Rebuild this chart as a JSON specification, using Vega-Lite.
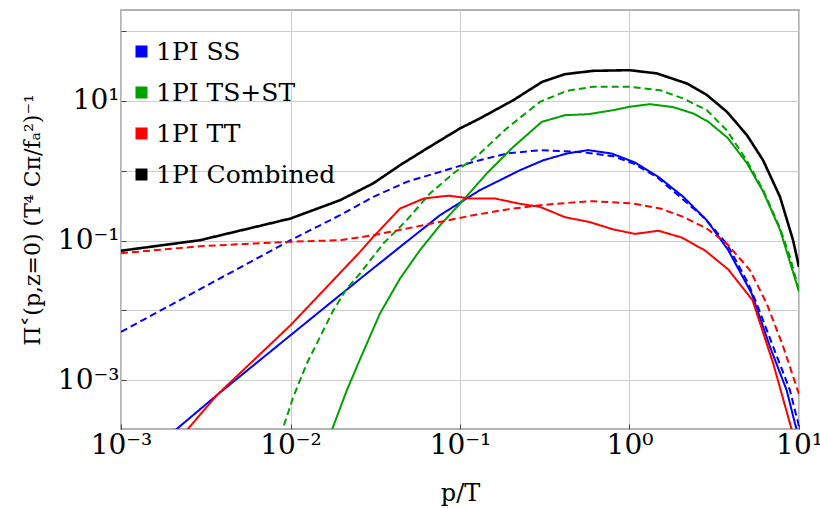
{
  "$schema": "https://vega.github.io/schema/vega-lite/v6.json",
  "width": 678,
  "height": 419,
  "autosize": "none",
  "padding": {"left": 121, "top": 10, "right": 21, "bottom": 79},
  "background": "white",
  "config": {
    "view": {"stroke": "#999999", "strokeWidth": 1.5},
    "font": "DejaVu Serif"
  },
  "data": {
    "values": [
      {"s": "1PI SS", "t": "solid", "x": 0.0017, "y": 0.000126},
      {"s": "1PI SS", "t": "solid", "x": 0.002084, "y": 0.000191},
      {"s": "1PI SS", "t": "solid", "x": 0.00367, "y": 0.000608},
      {"s": "1PI SS", "t": "solid", "x": 0.01, "y": 0.0044},
      {"s": "1PI SS", "t": "solid", "x": 0.0257, "y": 0.0282},
      {"s": "1PI SS", "t": "solid", "x": 0.0443, "y": 0.081},
      {"s": "1PI SS", "t": "solid", "x": 0.0762, "y": 0.2304},
      {"s": "1PI SS", "t": "solid", "x": 0.131, "y": 0.526},
      {"s": "1PI SS", "t": "solid", "x": 0.226, "y": 1.016},
      {"s": "1PI SS", "t": "solid", "x": 0.31, "y": 1.41},
      {"s": "1PI SS", "t": "solid", "x": 0.426, "y": 1.76},
      {"s": "1PI SS", "t": "solid", "x": 0.57, "y": 1.97},
      {"s": "1PI SS", "t": "solid", "x": 0.785, "y": 1.76},
      {"s": "1PI SS", "t": "solid", "x": 1.078, "y": 1.31},
      {"s": "1PI SS", "t": "solid", "x": 1.479, "y": 0.815},
      {"s": "1PI SS", "t": "solid", "x": 2.077, "y": 0.422},
      {"s": "1PI SS", "t": "solid", "x": 2.854, "y": 0.1955},
      {"s": "1PI SS", "t": "solid", "x": 3.828, "y": 0.0726},
      {"s": "1PI SS", "t": "solid", "x": 5.26, "y": 0.0174},
      {"s": "1PI SS", "t": "solid", "x": 6.745, "y": 0.00299},
      {"s": "1PI SS", "t": "solid", "x": 8.46, "y": 0.000716},
      {"s": "1PI SS", "t": "solid", "x": 9.47, "y": 0.000239},
      {"s": "1PI SS", "t": "solid", "x": 10, "y": 0.000152},

      {"s": "1PI SS", "t": "dashed", "x": 0.001, "y": 0.00491},
      {"s": "1PI SS", "t": "dashed", "x": 0.01, "y": 0.101},
      {"s": "1PI SS", "t": "dashed", "x": 0.0196, "y": 0.2304},
      {"s": "1PI SS", "t": "dashed", "x": 0.0308, "y": 0.4217},
      {"s": "1PI SS", "t": "dashed", "x": 0.0485, "y": 0.691},
      {"s": "1PI SS", "t": "dashed", "x": 0.0762, "y": 0.961},
      {"s": "1PI SS", "t": "dashed", "x": 0.1198, "y": 1.337},
      {"s": "1PI SS", "t": "dashed", "x": 0.1886, "y": 1.76},
      {"s": "1PI SS", "t": "dashed", "x": 0.2965, "y": 1.966},
      {"s": "1PI SS", "t": "dashed", "x": 0.5105, "y": 1.859},
      {"s": "1PI SS", "t": "dashed", "x": 0.8025, "y": 1.613},
      {"s": "1PI SS", "t": "dashed", "x": 1.053, "y": 1.268},
      {"s": "1PI SS", "t": "dashed", "x": 1.445, "y": 0.815},
      {"s": "1PI SS", "t": "dashed", "x": 1.986, "y": 0.4217},
      {"s": "1PI SS", "t": "dashed", "x": 2.725, "y": 0.2178},
      {"s": "1PI SS", "t": "dashed", "x": 3.746, "y": 0.0906},
      {"s": "1PI SS", "t": "dashed", "x": 5.02, "y": 0.0242},
      {"s": "1PI SS", "t": "dashed", "x": 5.628, "y": 0.0125},
      {"s": "1PI SS", "t": "dashed", "x": 7.047, "y": 0.00299},
      {"s": "1PI SS", "t": "dashed", "x": 8.849, "y": 0.000716},
      {"s": "1PI SS", "t": "dashed", "x": 9.906, "y": 0.000239},
      {"s": "1PI SS", "t": "dashed", "x": 10, "y": 0.00021},

      {"s": "1PI TS+ST", "t": "solid", "x": 0.0164, "y": 0.000127},
      {"s": "1PI TS+ST", "t": "solid", "x": 0.0175, "y": 0.000191},
      {"s": "1PI TS+ST", "t": "solid", "x": 0.0215, "y": 0.000716},
      {"s": "1PI TS+ST", "t": "solid", "x": 0.0257, "y": 0.00199},
      {"s": "1PI TS+ST", "t": "solid", "x": 0.0337, "y": 0.009},
      {"s": "1PI TS+ST", "t": "solid", "x": 0.0443, "y": 0.0286},
      {"s": "1PI TS+ST", "t": "solid", "x": 0.058, "y": 0.0726},
      {"s": "1PI TS+ST", "t": "solid", "x": 0.0762, "y": 0.165},
      {"s": "1PI TS+ST", "t": "solid", "x": 0.1, "y": 0.337},
      {"s": "1PI TS+ST", "t": "solid", "x": 0.1437, "y": 0.912},
      {"s": "1PI TS+ST", "t": "solid", "x": 0.2063, "y": 2.19},
      {"s": "1PI TS+ST", "t": "solid", "x": 0.3035, "y": 5.0},
      {"s": "1PI TS+ST", "t": "solid", "x": 0.4164, "y": 6.24},
      {"s": "1PI TS+ST", "t": "solid", "x": 0.5715, "y": 6.44},
      {"s": "1PI TS+ST", "t": "solid", "x": 0.8025, "y": 7.36},
      {"s": "1PI TS+ST", "t": "solid", "x": 1.007, "y": 8.26},
      {"s": "1PI TS+ST", "t": "solid", "x": 1.321, "y": 8.97},
      {"s": "1PI TS+ST", "t": "solid", "x": 1.813, "y": 8.12},
      {"s": "1PI TS+ST", "t": "solid", "x": 2.377, "y": 6.6},
      {"s": "1PI TS+ST", "t": "solid", "x": 2.909, "y": 5.04},
      {"s": "1PI TS+ST", "t": "solid", "x": 3.785, "y": 2.97},
      {"s": "1PI TS+ST", "t": "solid", "x": 4.909, "y": 1.3},
      {"s": "1PI TS+ST", "t": "solid", "x": 6.15, "y": 0.5},
      {"s": "1PI TS+ST", "t": "solid", "x": 7.727, "y": 0.143},
      {"s": "1PI TS+ST", "t": "solid", "x": 10, "y": 0.0185},

      {"s": "1PI TS+ST", "t": "dashed", "x": 0.00832, "y": 0.000113},
      {"s": "1PI TS+ST", "t": "dashed", "x": 0.00894, "y": 0.000191},
      {"s": "1PI TS+ST", "t": "dashed", "x": 0.01039, "y": 0.000574},
      {"s": "1PI TS+ST", "t": "dashed", "x": 0.01247, "y": 0.00173},
      {"s": "1PI TS+ST", "t": "dashed", "x": 0.01493, "y": 0.00416},
      {"s": "1PI TS+ST", "t": "dashed", "x": 0.01789, "y": 0.01002},
      {"s": "1PI TS+ST", "t": "dashed", "x": 0.02148, "y": 0.0205},
      {"s": "1PI TS+ST", "t": "dashed", "x": 0.0257, "y": 0.0337},
      {"s": "1PI TS+ST", "t": "dashed", "x": 0.0353, "y": 0.0906},
      {"s": "1PI TS+ST", "t": "dashed", "x": 0.0485, "y": 0.1955},
      {"s": "1PI TS+ST", "t": "dashed", "x": 0.0665, "y": 0.471},
      {"s": "1PI TS+ST", "t": "dashed", "x": 0.0913, "y": 0.912},
      {"s": "1PI TS+ST", "t": "dashed", "x": 0.131, "y": 1.76},
      {"s": "1PI TS+ST", "t": "dashed", "x": 0.1886, "y": 4.03},
      {"s": "1PI TS+ST", "t": "dashed", "x": 0.2965, "y": 9.68},
      {"s": "1PI TS+ST", "t": "dashed", "x": 0.426, "y": 13.9},
      {"s": "1PI TS+ST", "t": "dashed", "x": 0.6115, "y": 15.9},
      {"s": "1PI TS+ST", "t": "dashed", "x": 1.007, "y": 15.9},
      {"s": "1PI TS+ST", "t": "dashed", "x": 1.514, "y": 14.2},
      {"s": "1PI TS+ST", "t": "dashed", "x": 2.077, "y": 10.8},
      {"s": "1PI TS+ST", "t": "dashed", "x": 2.854, "y": 7.36},
      {"s": "1PI TS+ST", "t": "dashed", "x": 3.746, "y": 3.8},
      {"s": "1PI TS+ST", "t": "dashed", "x": 4.909, "y": 1.41},
      {"s": "1PI TS+ST", "t": "dashed", "x": 6.15, "y": 0.526},
      {"s": "1PI TS+ST", "t": "dashed", "x": 7.727, "y": 0.15},
      {"s": "1PI TS+ST", "t": "dashed", "x": 8.849, "y": 0.0582},
      {"s": "1PI TS+ST", "t": "dashed", "x": 10, "y": 0.0194},

      {"s": "1PI TT", "t": "solid", "x": 0.00211, "y": 0.000127},
      {"s": "1PI TT", "t": "solid", "x": 0.00244, "y": 0.000191},
      {"s": "1PI TT", "t": "solid", "x": 0.00367, "y": 0.000608},
      {"s": "1PI TT", "t": "solid", "x": 0.01, "y": 0.00612},
      {"s": "1PI TT", "t": "solid", "x": 0.0257, "y": 0.0687},
      {"s": "1PI TT", "t": "solid", "x": 0.0308, "y": 0.1127},
      {"s": "1PI TT", "t": "solid", "x": 0.0443, "y": 0.2874},
      {"s": "1PI TT", "t": "solid", "x": 0.0613, "y": 0.4},
      {"s": "1PI TT", "t": "solid", "x": 0.0853, "y": 0.4385},
      {"s": "1PI TT", "t": "solid", "x": 0.1146, "y": 0.4},
      {"s": "1PI TT", "t": "solid", "x": 0.1609, "y": 0.4},
      {"s": "1PI TT", "t": "solid", "x": 0.2199, "y": 0.339},
      {"s": "1PI TT", "t": "solid", "x": 0.2965, "y": 0.303},
      {"s": "1PI TT", "t": "solid", "x": 0.4164, "y": 0.2157},
      {"s": "1PI TT", "t": "solid", "x": 0.5768, "y": 0.1847},
      {"s": "1PI TT", "t": "solid", "x": 0.794, "y": 0.1452},
      {"s": "1PI TT", "t": "solid", "x": 1.078, "y": 0.1243},
      {"s": "1PI TT", "t": "solid", "x": 1.479, "y": 0.1382},
      {"s": "1PI TT", "t": "solid", "x": 2.032, "y": 0.1104},
      {"s": "1PI TT", "t": "solid", "x": 2.789, "y": 0.0719},
      {"s": "1PI TT", "t": "solid", "x": 3.828, "y": 0.0384},
      {"s": "1PI TT", "t": "solid", "x": 5.318, "y": 0.01396},
      {"s": "1PI TT", "t": "solid", "x": 7.047, "y": 0.00173},
      {"s": "1PI TT", "t": "solid", "x": 8.849, "y": 0.000239},
      {"s": "1PI TT", "t": "solid", "x": 9.47, "y": 0.000133},

      {"s": "1PI TT", "t": "dashed", "x": 0.001, "y": 0.0658},
      {"s": "1PI TT", "t": "dashed", "x": 0.00292, "y": 0.0828},
      {"s": "1PI TT", "t": "dashed", "x": 0.01, "y": 0.0962},
      {"s": "1PI TT", "t": "dashed", "x": 0.0196, "y": 0.101},
      {"s": "1PI TT", "t": "dashed", "x": 0.0308, "y": 0.119},
      {"s": "1PI TT", "t": "dashed", "x": 0.0485, "y": 0.1486},
      {"s": "1PI TT", "t": "dashed", "x": 0.0762, "y": 0.1847},
      {"s": "1PI TT", "t": "dashed", "x": 0.1198, "y": 0.2304},
      {"s": "1PI TT", "t": "dashed", "x": 0.1886, "y": 0.278},
      {"s": "1PI TT", "t": "dashed", "x": 0.2965, "y": 0.3206},
      {"s": "1PI TT", "t": "dashed", "x": 0.5105, "y": 0.357},
      {"s": "1PI TT", "t": "dashed", "x": 0.6115, "y": 0.366},
      {"s": "1PI TT", "t": "dashed", "x": 1.053, "y": 0.339},
      {"s": "1PI TT", "t": "dashed", "x": 1.514, "y": 0.2874},
      {"s": "1PI TT", "t": "dashed", "x": 2.077, "y": 0.2178},
      {"s": "1PI TT", "t": "dashed", "x": 2.854, "y": 0.1486},
      {"s": "1PI TT", "t": "dashed", "x": 3.746, "y": 0.0906},
      {"s": "1PI TT", "t": "dashed", "x": 5.14, "y": 0.0375},
      {"s": "1PI TT", "t": "dashed", "x": 6.449, "y": 0.0125},
      {"s": "1PI TT", "t": "dashed", "x": 8.08, "y": 0.00299},
      {"s": "1PI TT", "t": "dashed", "x": 10, "y": 0.000628},

      {"s": "1PI Combined", "t": "solid", "x": 0.001, "y": 0.0714},
      {"s": "1PI Combined", "t": "solid", "x": 0.00292, "y": 0.101},
      {"s": "1PI Combined", "t": "solid", "x": 0.01, "y": 0.2065},
      {"s": "1PI Combined", "t": "solid", "x": 0.0196, "y": 0.378},
      {"s": "1PI Combined", "t": "solid", "x": 0.0307, "y": 0.656},
      {"s": "1PI Combined", "t": "solid", "x": 0.0443, "y": 1.2},
      {"s": "1PI Combined", "t": "solid", "x": 0.0638, "y": 2.08},
      {"s": "1PI Combined", "t": "solid", "x": 0.1, "y": 4.03},
      {"s": "1PI Combined", "t": "solid", "x": 0.131, "y": 5.6},
      {"s": "1PI Combined", "t": "solid", "x": 0.206, "y": 10.2},
      {"s": "1PI Combined", "t": "solid", "x": 0.305, "y": 18.7},
      {"s": "1PI Combined", "t": "solid", "x": 0.416, "y": 24.1},
      {"s": "1PI Combined", "t": "solid", "x": 0.61, "y": 26.9},
      {"s": "1PI Combined", "t": "solid", "x": 1.0, "y": 27.5},
      {"s": "1PI Combined", "t": "solid", "x": 1.452, "y": 24.7},
      {"s": "1PI Combined", "t": "solid", "x": 2.183, "y": 17.7},
      {"s": "1PI Combined", "t": "solid", "x": 2.864, "y": 12.1},
      {"s": "1PI Combined", "t": "solid", "x": 3.758, "y": 6.96},
      {"s": "1PI Combined", "t": "solid", "x": 4.932, "y": 3.23},
      {"s": "1PI Combined", "t": "solid", "x": 6.138, "y": 1.41},
      {"s": "1PI Combined", "t": "solid", "x": 7.727, "y": 0.422},
      {"s": "1PI Combined", "t": "solid", "x": 9.226, "y": 0.101},
      {"s": "1PI Combined", "t": "solid", "x": 10, "y": 0.0419}
    ]
  },
  "mark": {"type": "line", "clip": true},
  "encoding": {
    "x": {
      "field": "x",
      "type": "quantitative",
      "scale": {"type": "log", "domain": [0.001, 10], "nice": false},
      "axis": {
        "title": "p/T",
        "values": [0.001, 0.01, 0.1, 1, 10],
        "labelExpr": "datum.value < 0.005 ? '10⁻³' : datum.value < 0.05 ? '10⁻²' : datum.value < 0.5 ? '10⁻¹' : datum.value < 5 ? '10⁰' : '10¹'",
        "labelFont": "DejaVu Serif",
        "labelFontSize": 28,
        "labelColor": "black",
        "labelPadding": 7,
        "labelOverlap": false,
        "labelFlush": false,
        "labelBound": false,
        "grid": true,
        "gridColor": "#cccccc",
        "gridWidth": 1,
        "domain": false,
        "ticks": true,
        "tickSize": -5,
        "tickColor": "#444444",
        "titleFont": "DejaVu Serif",
        "titleFontSize": 24,
        "titleFontWeight": "normal",
        "titleColor": "black",
        "titlePadding": 22
      }
    },
    "y": {
      "field": "y",
      "type": "quantitative",
      "scale": {"type": "log", "domain": [0.0002, 200], "nice": false},
      "axis": {
        "title": "Π˂(p,z=0) (T⁴ Cπ/fₐ²)⁻¹",
        "values": [0.001, 0.01, 0.1, 1, 10, 100],
        "labelExpr": "datum.value < 0.002 ? '10⁻³' : (datum.value > 0.05 && datum.value < 0.2) ? '10⁻¹' : (datum.value > 5 && datum.value < 20) ? '10¹' : ''",
        "labelFont": "DejaVu Serif",
        "labelFontSize": 28,
        "labelColor": "black",
        "labelPadding": 7,
        "labelOverlap": false,
        "labelBound": false,
        "labelFlush": false,
        "grid": true,
        "gridColor": "#cccccc",
        "gridWidth": 1,
        "domain": false,
        "ticks": true,
        "tickSize": -5,
        "tickColor": "#444444",
        "titleFont": "DejaVu Serif",
        "titleFontSize": 22,
        "titleFontWeight": "normal",
        "titleColor": "black",
        "titlePadding": 13
      }
    },
    "color": {
      "field": "s",
      "type": "nominal",
      "scale": {
        "domain": ["1PI SS", "1PI TS+ST", "1PI TT", "1PI Combined"],
        "range": ["#0000ff", "#00a000", "#ff0000", "#000000"]
      },
      "legend": {
        "title": null,
        "orient": "none",
        "legendX": 8,
        "legendY": 29,
        "padding": 0,
        "symbolType": "square",
        "symbolSize": 144,
        "labelFont": "DejaVu Serif",
        "labelFontSize": 25,
        "labelColor": "black",
        "labelLimit": 0,
        "labelOffset": 2,
        "rowPadding": 15,
        "encode": {
          "symbols": {
            "update": {
              "fill": {"scale": "color", "field": "value"},
              "fillOpacity": {"value": 1},
              "strokeWidth": {"value": 0},
              "strokeDash": {"value": [1, 0]}
            }
          }
        }
      }
    },
    "strokeDash": {
      "field": "t",
      "type": "nominal",
      "scale": {"domain": ["solid", "dashed"], "range": [[1, 0], [7, 4]]},
      "legend": null
    },
    "strokeWidth": {
      "condition": {"test": "datum.s === '1PI Combined'", "value": 2.6},
      "value": 2
    }
  }
}
